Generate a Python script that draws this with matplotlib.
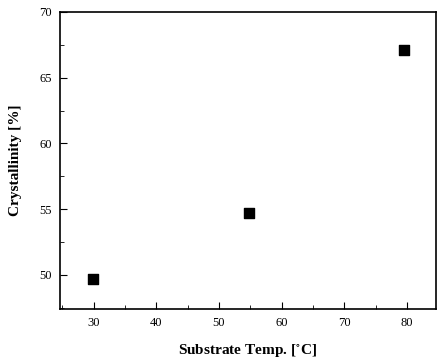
import matplotlib
matplotlib.use("Agg")
import matplotlib.pyplot as plt
from matplotlib.ticker import MultipleLocator

# substrate temperature vs crystallinity
temp = [29.9, 54.8, 79.5]
cryst = [49.7, 54.7, 67.1]

plt.rcParams["font.family"] = ["Liberation Serif", "DejaVu Serif"]
plt.rcParams["mathtext.fontset"] = "stix"

fig = plt.figure(figsize=(4.37, 3.62), dpi=100)
ax = fig.add_axes([0.137, 0.146, 0.86, 0.821])

ax.scatter(temp, cryst, marker="s", s=55, color="black", zorder=3)

ax.set_xlim(24.6, 84.6)
ax.set_ylim(47.4, 70)
ax.xaxis.set_major_locator(MultipleLocator(10))
ax.xaxis.set_minor_locator(MultipleLocator(5))
ax.yaxis.set_major_locator(MultipleLocator(5))
ax.yaxis.set_minor_locator(MultipleLocator(2.5))
ax.tick_params(which="both", direction="in", labelsize=9)
ax.tick_params(which="major", length=5, pad=6)
ax.tick_params(which="minor", length=3)
for s in ax.spines.values():
    s.set_linewidth(1.2)

ax.set_xlabel("Substrate Temp. [$^{\\circ}$C]", fontsize=11, fontweight="bold", labelpad=9)
ax.set_ylabel("Crystallinity [%]", fontsize=11, fontweight="bold", labelpad=12)

plt.savefig("out.png", dpi=100)
